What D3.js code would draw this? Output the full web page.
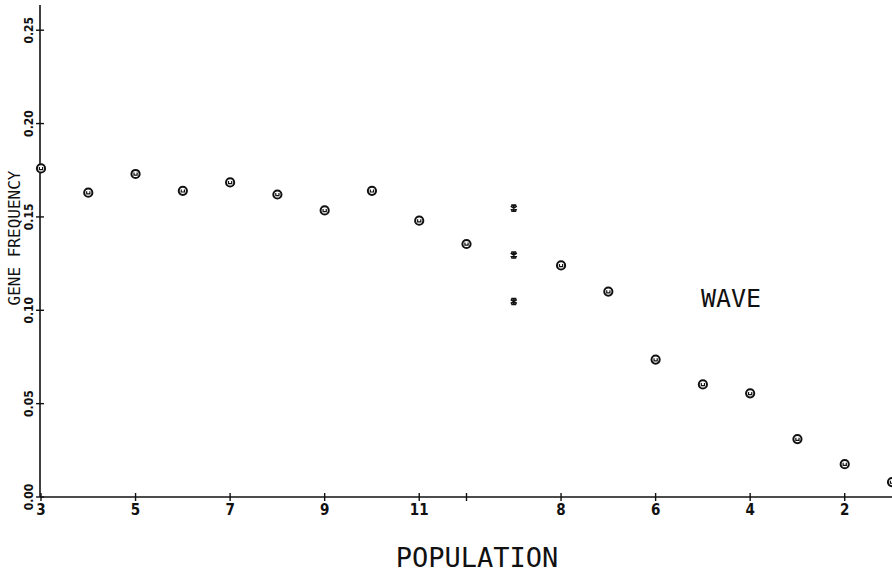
<!DOCTYPE html>
<html>
<head>
<meta charset="utf-8">
<script src="https://cdn.jsdelivr.net/npm/d3@7"></script>
<style>
  html, body { margin: 0; padding: 0; background: #fff; }
  #chart { width: 892px; height: 572px; }
</style>
</head>
<body>
<div id="chart"></div>
<script>
// Gene frequency by population, plotter-style scatter.
// Slot index runs along x; tick labels name the populations.
var circleSlots = [0, 1, 2, 3, 4, 5, 6, 7, 8, 9, 11, 12, 13, 14, 15, 16, 17, 18];
var circleVals  = [0.176, 0.163, 0.173, 0.164, 0.1685, 0.162, 0.1535, 0.164, 0.148, 0.1355,
                   0.124, 0.110, 0.0736, 0.0603, 0.0555, 0.031, 0.0176, 0.008];
var starSlots = [10, 10, 10];
var starVals  = [0.1547, 0.1296, 0.1047];
var xTickSlots  = [0, 2, 4, 6, 8, 9, 11, 13, 15, 17];
var xTickLabels = ['3', '5', '7', '9', '11', '', '8', '6', '4', '2'];
var yTicks = [0, 0.05, 0.10, 0.15, 0.20, 0.25];

(function () {
    var W = 892, H = 572;
    var margin = { top: 5, right: 0, bottom: 75, left: 40 };
    var innerW = W - margin.left - margin.right;
    var innerH = H - margin.top - margin.bottom;

    var svg = d3.select('#chart').append('svg')
        .attr('width', W).attr('height', H);
    var g = svg.append('g')
        .attr('transform', 'translate(' + margin.left + ',' + margin.top + ')');

    var x = d3.scaleLinear().domain([0, 18]).range([1, 852]);
    var y = d3.scaleLinear().domain([0, 0.2635]).range([innerH, 0]);

    var ink = '#111';

    // Axis lines
    g.append('line')
        .attr('x1', 0).attr('x2', innerW + 2)
        .attr('y1', innerH).attr('y2', innerH)
        .attr('stroke', ink).attr('stroke-width', 1.6);
    g.append('line')
        .attr('x1', 0).attr('x2', 0)
        .attr('y1', 0).attr('y2', innerH)
        .attr('stroke', ink).attr('stroke-width', 1.6);

    // Cross ticks (straddle the axis line)
    g.selectAll('.xt').data(xTickSlots).enter().append('line')
        .attr('x1', function (d) { return x(d); }).attr('x2', function (d) { return x(d); })
        .attr('y1', innerH - 4).attr('y2', innerH + 4)
        .attr('stroke', ink).attr('stroke-width', 1.4);
    g.selectAll('.yt').data(yTicks).enter().append('line')
        .attr('x1', -4).attr('x2', 4)
        .attr('y1', function (d) { return y(d); }).attr('y2', function (d) { return y(d); })
        .attr('stroke', ink).attr('stroke-width', 1.4);

    // Tick labels
    g.selectAll('.xl').data(xTickSlots).enter().append('text')
        .attr('x', function (d) { return x(d); })
        .attr('y', innerH + 18)
        .attr('text-anchor', 'middle')
        .attr('font-family', 'DejaVu Sans Condensed, DejaVu Sans, sans-serif')
        .attr('font-weight', 'bold')
        .attr('font-size', 15)
        .attr('fill', ink)
        .text(function (d, i) { return xTickLabels[i]; });

    g.selectAll('.yl').data(yTicks).enter().append('text')
        .attr('transform', function (d) {
            return 'translate(-7,' + y(d) + ') rotate(-90)';
        })
        .attr('text-anchor', 'middle')
        .attr('font-family', 'DejaVu Sans Condensed, DejaVu Sans, sans-serif')
        .attr('font-weight', 'bold')
        .attr('font-size', 12)
        .attr('fill', ink)
        .text(function (d) { return d3.format('.2f')(d); });

    // Circle markers with a small inner mark
    var circ = g.selectAll('.pt').data(circleVals).enter().append('g')
        .attr('transform', function (d, i) {
            return 'translate(' + x(circleSlots[i]) + ',' + y(d) + ')';
        });
    circ.append('circle')
        .attr('r', 4.1).attr('fill', '#fff')
        .attr('stroke', ink).attr('stroke-width', 2);
    circ.append('path')
        .attr('d', 'M-1.6,-1.4 L-1.6,1.2 L1.6,1.2 L1.6,-1.4')
        .attr('fill', 'none').attr('stroke', ink).attr('stroke-width', 1.2);

    // Asterisk markers
    var star = g.selectAll('.st').data(starVals).enter().append('g')
        .attr('transform', function (d, i) {
            return 'translate(' + x(starSlots[i]) + ',' + y(d) + ')';
        });
    star.append('path')
        .attr('d', 'M0,-3.5 L0,3.5 M-3,-2 L3,2 M-3,2 L3,-2 M-2.5,-3 L2.5,-3 M-2.5,3 L2.5,3')
        .attr('fill', 'none').attr('stroke', ink).attr('stroke-width', 1.7);

    // Annotation and axis titles
    svg.append('text')
        .attr('x', 731).attr('y', 307)
        .attr('text-anchor', 'middle')
        .attr('font-family', 'DejaVu Sans Mono, monospace')
        .attr('font-size', 25)
        .attr('fill', ink)
        .text('WAVE');

    svg.append('text')
        .attr('x', 477).attr('y', 567)
        .attr('text-anchor', 'middle')
        .attr('font-family', 'DejaVu Sans Mono, monospace')
        .attr('font-size', 27)
        .attr('fill', ink)
        .text('POPULATION');

    svg.append('text')
        .attr('transform', 'translate(20,238) rotate(-90)')
        .attr('text-anchor', 'middle')
        .attr('font-family', 'DejaVu Sans Mono, monospace')
        .attr('font-size', 16)
        .attr('fill', ink)
        .text('GENE FREQUENCY');
})();
</script>
</body>
</html>
